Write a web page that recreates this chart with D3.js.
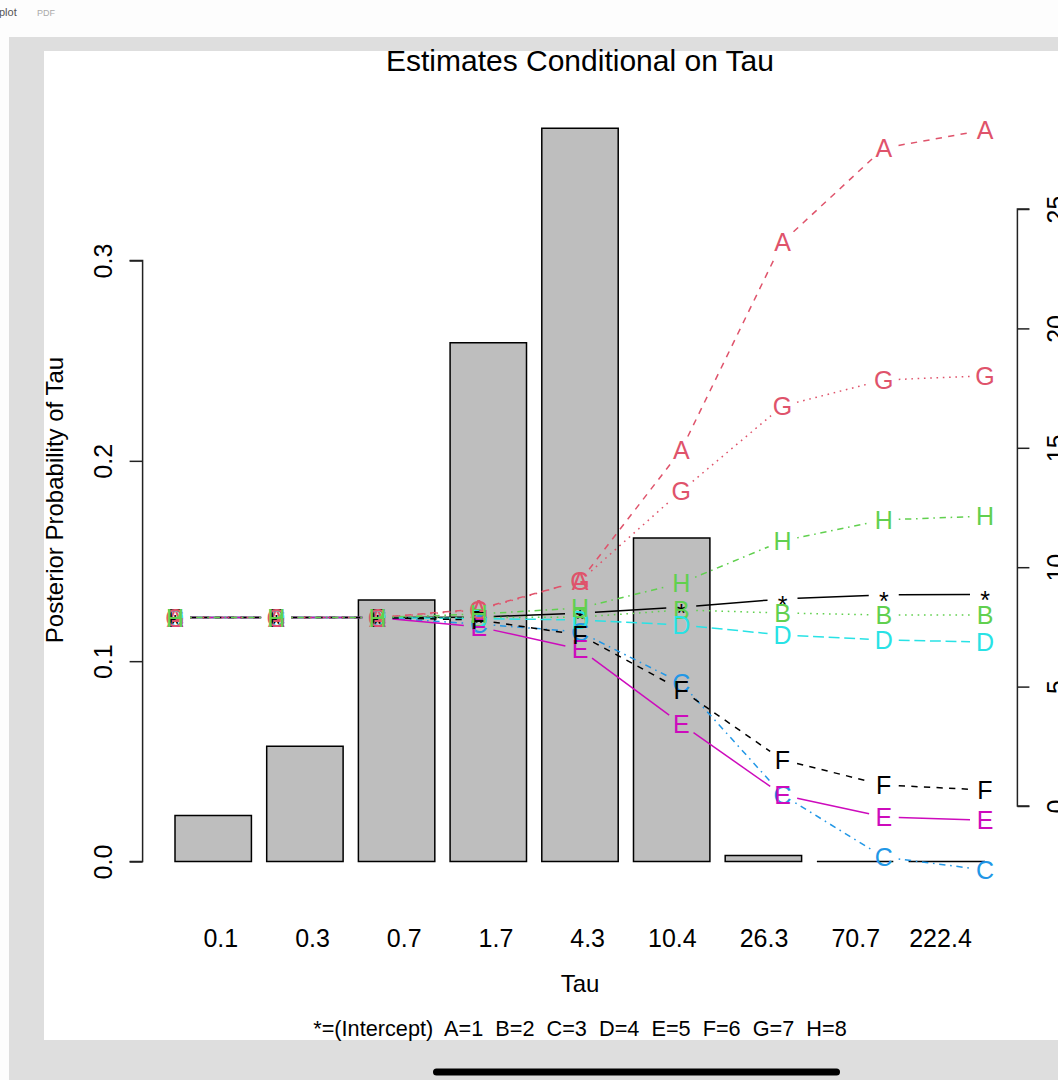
<!DOCTYPE html>
<html>
<head>
<meta charset="utf-8">
<script src="https://cdn.jsdelivr.net/npm/d3@7"></script>
<style>
  body { margin: 0; background: #fff; }
  svg { display: block; font-family: "Liberation Sans", Arial, Helvetica, sans-serif; }
</style>
</head>
<body>
<svg id="chart" width="1058" height="1080"></svg>
<script>
// posterior probability of each tau value (bars, left axis)
const tauLabels = ["0.1", "0.3", "0.7", "1.7", "4.3", "10.4", "26.3", "70.7", "222.4"];
const posteriorProb = [0.023, 0.0575, 0.1305, 0.259, 0.366, 0.1615, 0.003, 0, 0];
const leftTicks = [0, 0.1, 0.2, 0.3];
const rightTicks = [0, 5, 10, 15, 20, 25];

// coefficient estimates conditional on tau (lines, right axis)
const estIntercept = [7.89, 7.89, 7.89, 7.91, 8.08, 8.33, 8.67, 8.84, 8.86];
const estA = [7.89, 7.89, 7.89, 8.25, 9.42, 14.91, 23.62, 27.55, 28.31];
const estB = [7.89, 7.89, 7.89, 7.89, 7.91, 8.21, 8.08, 8.00, 8.00];
const estC = [7.89, 7.89, 7.89, 7.62, 7.29, 5.15, 0.46, -2.14, -2.68];
const estD = [7.89, 7.89, 7.89, 7.85, 7.79, 7.58, 7.16, 6.95, 6.87];
const estE = [7.89, 7.89, 7.89, 7.50, 6.57, 3.43, 0.46, -0.46, -0.59];
const estF = [7.89, 7.89, 7.89, 7.79, 7.16, 4.86, 1.93, 0.88, 0.67];
const estG = [7.89, 7.89, 7.89, 8.21, 9.42, 13.19, 16.75, 17.84, 18.01];
const estH = [7.89, 7.89, 7.89, 8.04, 8.29, 9.34, 11.10, 11.98, 12.14];
const seriesSymbols = ["*", "A", "B", "C", "D", "E", "F", "G", "H"];
const legendText = "*=(Intercept)  A=1  B=2  C=3  D=4  E=5  F=6  G=7  H=8";

const svg = d3.select("#chart");

// viewer chrome around the embedded pdf
svg.append("rect").attr("width", 1058).attr("height", 1080).attr("fill", "#fdfdfd");
svg.append("text").attr("x", -1).attr("y", 16).attr("font-size", 11).attr("fill", "#555").text("plot");
svg.append("text").attr("x", 37).attr("y", 16).attr("font-size", 9).attr("fill", "#aaa").text("PDF");
svg.append("rect").attr("x", 9).attr("y", 37).attr("width", 1049).attr("height", 1043).attr("fill", "#dedede");
svg.append("rect").attr("x", 44).attr("y", 51).attr("width", 1014).attr("height", 989).attr("fill", "#fff");
svg.append("rect").attr("x", 433).attr("y", 1068.5).attr("width", 407).attr("height", 7)
    .attr("rx", 3.5).attr("fill", "#000");

// plot region is 142.6 .. 1017.4 horizontally
const left = 142.6, right = 1017.4;
const xBar = d3.scaleLinear().domain([-0.224, 11.224]).range([left, right]);
const xPt = d3.scaleLinear().domain([0.68, 9.32]).range([left, right]);
const yLeft = d3.scaleLinear().domain([0, 0.3]).range([861.5, 260.5]);
const yRight = d3.scaleLinear().domain([0, 25]).range([806, 209]);

// bars (drawn as paths so zero-height bars still show their outline)
svg.append("g").selectAll("path")
    .data(posteriorProb)
    .join("path")
    .attr("d", (d, i) => {
        const x0 = xBar(0.2 + 1.2 * i), x1 = xBar(1.2 + 1.2 * i);
        return `M${x0},${yLeft(0)}H${x1}V${yLeft(d)}H${x0}Z`;
    })
    .attr("fill", "#bebebe")
    .attr("stroke", "#000")
    .attr("stroke-width", 1.5);

// left axis
let yAxisL = d3.axisLeft(yLeft).tickValues(leftTicks).tickSize(13).tickFormat(d3.format(".1f"));
let gl = svg.append("g").attr("transform", `translate(${left},0)`).call(yAxisL);
gl.select(".domain").attr("stroke", "#222").attr("stroke-width", 1.5).attr("d", `M-13,${yLeft(0)}H0V${yLeft(0.3)}H-13`);
gl.selectAll(".tick line").attr("stroke", "#222").attr("stroke-width", 1.5);
gl.selectAll(".tick text")
    .attr("x", null).attr("dy", null)
    .attr("transform", "translate(-31,0) rotate(-90)")
    .attr("text-anchor", "middle")
    .attr("font-size", 25).attr("font-family", null).attr("fill", "#000");

// right axis
let yAxisR = d3.axisRight(yRight).tickValues(rightTicks).tickSize(12);
let gr = svg.append("g").attr("transform", `translate(${right},0)`).call(yAxisR);
gr.select(".domain").attr("stroke", "#222").attr("stroke-width", 1.5).attr("d", `M12,${yRight(0)}H0V${yRight(25)}H12`);
gr.selectAll(".tick line").attr("stroke", "#222").attr("stroke-width", 1.5);
gr.selectAll(".tick text")
    .attr("x", null).attr("dy", null)
    .attr("transform", "translate(48,0) rotate(-90)")
    .attr("text-anchor", "middle")
    .attr("font-size", 25).attr("font-family", null).attr("fill", "#000");

// tau tick labels under the bars (R pads them to equal width, so right edges line up)
svg.append("g").selectAll("text")
    .data(tauLabels)
    .join("text")
    .attr("x", (d, i) => xBar(0.7 + 1.2 * i) + 25)
    .attr("y", 947)
    .attr("text-anchor", "end")
    .attr("font-size", 25)
    .text(d => d);

// titles
svg.append("text").attr("x", 580).attr("y", 71).attr("text-anchor", "middle")
    .attr("font-size", 30).text("Estimates Conditional on Tau");
svg.append("text").attr("x", 580).attr("y", 992).attr("text-anchor", "middle")
    .attr("font-size", 24).text("Tau");
svg.append("text").attr("transform", "translate(63,500) rotate(-90)").attr("text-anchor", "middle")
    .attr("font-size", 24).text("Posterior Probability of Tau");
svg.append("text").attr("x", 580).attr("y", 1036).attr("text-anchor", "middle")
    .attr("font-size", 21.7).attr("xml:space", "preserve").style("white-space", "pre").text(legendText);

// matplot(type = "b"): col cycles 1:6, lty cycles 1:5
const series = [estIntercept, estA, estB, estC, estD, estE, estF, estG, estH];
const palette = ["#000000", "#DF536B", "#61D04F", "#2297E6", "#28E2E5", "#CD0BBC"];
const dashes = [null, "6.3,6.3", "1.6,4.7", "1.6,4.7,6.3,4.7", "10.9,4.7"];
const gap = 15;

series.forEach((vals, k) => {
    const color = palette[k % 6];
    const dash = dashes[k % 5];
    const pts = vals.map((v, i) => [xPt(i + 1), yRight(v)]);
    const g = svg.append("g");
    d3.pairs(pts).forEach(([p, q]) => {
        const dx = q[0] - p[0], dy = q[1] - p[1], len = Math.hypot(dx, dy);
        if (len <= 2 * gap) return;
        const ux = dx / len, uy = dy / len;
        g.append("line")
            .attr("x1", p[0] + ux * gap).attr("y1", p[1] + uy * gap)
            .attr("x2", q[0] - ux * gap).attr("y2", q[1] - uy * gap)
            .attr("stroke", color).attr("stroke-width", 1.5)
            .attr("stroke-dasharray", dash);
    });
    g.selectAll("text")
        .data(pts)
        .join("text")
        .attr("x", d => d[0]).attr("y", d => d[1])
        .attr("dy", seriesSymbols[k] == "*" ? "0.6em" : "0.36em")
        .attr("text-anchor", "middle")
        .attr("font-size", 25)
        .attr("fill", color)
        .text(seriesSymbols[k]);
});
</script>
</body>
</html>
